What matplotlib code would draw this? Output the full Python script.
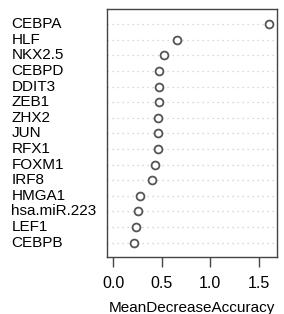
import matplotlib
matplotlib.use("Agg")
import matplotlib.pyplot as plt
import matplotlib.transforms as mtransforms

# variable importance, top to bottom
genes = ["CEBPA", "HLF", "NKX2.5", "CEBPD", "DDIT3", "ZEB1", "ZHX2", "JUN",
         "RFX1", "FOXM1", "IRF8", "HMGA1", "hsa.miR.223", "LEF1", "CEBPB"]
mda = [1.61, 0.66, 0.52, 0.47, 0.47, 0.47, 0.465, 0.465,
       0.457, 0.43, 0.40, 0.28, 0.25, 0.23, 0.21]
xticks = [0.0, 0.5, 1.0, 1.5]
xlabel = "MeanDecreaseAccuracy"

plt.rcParams["font.family"] = ["Liberation Sans", "DejaVu Sans"]

fig = plt.figure(figsize=(2.84, 3.14), dpi=100)
ax = fig.add_axes([0.376, 0.1825, 0.598, 0.7885])

n = len(genes)
ypos = list(range(n, 0, -1))

for y in ypos:
    ax.axhline(y, color="#cccccc", lw=0.9, ls=(0, (1, 3)), zorder=1)
ax.scatter(mda, ypos, s=32, facecolors="white", edgecolors="#555555",
           linewidths=1.3, zorder=3)

ax.set_xlim(-0.068, 1.686)
ax.set_ylim(0.1, 15.96)
ax.set_yticks([])
ax.set_xticks(xticks)
ax.set_xticklabels([f"{t:.1f}" for t in xticks], fontsize=11.5)
ax.tick_params(axis="x", direction="out", length=7, width=1, color="#444444", pad=7)
for s in ax.spines.values():
    s.set_color("#444444")
    s.set_linewidth(1)
ax.set_xlabel(xlabel, fontsize=11, labelpad=7)

trans = mtransforms.blended_transform_factory(fig.transFigure, ax.transData)
for g, y in zip(genes, ypos):
    ax.text(11.5 / 284, y, g, transform=trans, ha="left", va="center",
            fontsize=11, clip_on=False)

fig.savefig("out.png", dpi=100)
